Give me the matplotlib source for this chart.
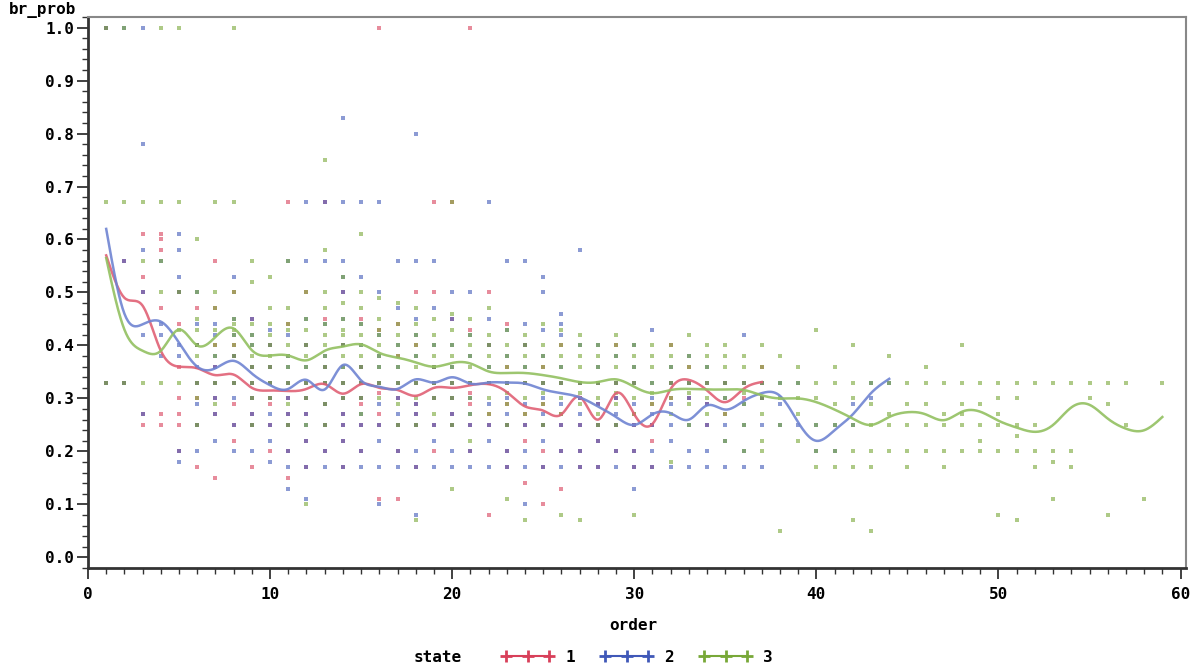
import numpy as np
import matplotlib
matplotlib.use("Agg")
import matplotlib.pyplot as plt
from matplotlib.lines import Line2D
from matplotlib.ticker import MultipleLocator

# ---- smoothed mean curves (at each order) ----
red_order = list(range(1, 38))
red_mean = [0.57, 0.49, 0.475, 0.39, 0.36, 0.357, 0.344, 0.345, 0.32, 0.315,
            0.314, 0.318, 0.327, 0.309, 0.327, 0.32, 0.316, 0.305, 0.32, 0.32,
            0.325, 0.327, 0.312, 0.285, 0.277, 0.27, 0.303, 0.26, 0.31, 0.27,
            0.252, 0.318, 0.335, 0.315, 0.293, 0.318, 0.331]

blue_order = list(range(1, 45))
blue_mean = [0.62, 0.46, 0.44, 0.445, 0.405, 0.36, 0.357, 0.371, 0.347, 0.325,
             0.318, 0.335, 0.317, 0.363, 0.334, 0.322, 0.318, 0.336, 0.33, 0.34,
             0.328, 0.33, 0.33, 0.328, 0.317, 0.31, 0.302, 0.285, 0.265, 0.25,
             0.27, 0.272, 0.26, 0.287, 0.279, 0.295, 0.31, 0.305, 0.255, 0.22,
             0.24, 0.27, 0.31, 0.337]

green_order = list(range(1, 60))
green_mean = [0.565, 0.43, 0.39, 0.39, 0.43, 0.40, 0.416, 0.432, 0.391, 0.381,
              0.381, 0.372, 0.39, 0.398, 0.402, 0.386, 0.377, 0.368, 0.36, 0.367,
              0.366, 0.351, 0.348, 0.348, 0.344, 0.338, 0.331, 0.331, 0.336, 0.322,
              0.31, 0.316, 0.318, 0.317, 0.317, 0.316, 0.306, 0.30, 0.30, 0.293,
              0.279, 0.262, 0.25, 0.265, 0.274, 0.27, 0.259, 0.275, 0.275, 0.258,
              0.245, 0.237, 0.25, 0.283, 0.288, 0.262, 0.243, 0.24, 0.265]

# ---- individual observations, order -> br_prob values ----
red_pts = {
    1: [1.0, 0.33], 2: [0.56, 0.33], 3: [0.61, 0.53, 0.5, 0.27, 0.25],
    4: [0.61, 0.6, 0.58, 0.47, 0.27, 0.25], 5: [0.5, 0.44, 0.36, 0.3, 0.27, 0.25, 0.2],
    6: [0.47, 0.4, 0.33, 0.3, 0.25, 0.17], 7: [0.56, 0.47, 0.4, 0.36, 0.33, 0.3, 0.27, 0.15],
    8: [0.5, 0.4, 0.38, 0.33, 0.29, 0.25, 0.22], 9: [0.45, 0.36, 0.33, 0.3, 0.27, 0.25, 0.17],
    10: [0.4, 0.36, 0.33, 0.3, 0.29, 0.25, 0.2], 11: [0.67, 0.44, 0.33, 0.3, 0.27, 0.25, 0.2, 0.15],
    12: [0.5, 0.4, 0.33, 0.3, 0.27, 0.22, 0.17], 13: [0.67, 0.45, 0.36, 0.33, 0.29, 0.25, 0.2],
    14: [0.5, 0.4, 0.33, 0.3, 0.27, 0.25, 0.22, 0.17], 15: [0.45, 0.36, 0.33, 0.3, 0.29, 0.25, 0.2],
    16: [1.0, 0.43, 0.33, 0.31, 0.27, 0.25, 0.11], 17: [0.44, 0.38, 0.33, 0.3, 0.25, 0.2, 0.11],
    18: [0.5, 0.4, 0.33, 0.29, 0.27, 0.25, 0.17], 19: [0.67, 0.5, 0.36, 0.33, 0.3, 0.25, 0.2],
    20: [0.67, 0.45, 0.33, 0.3, 0.27, 0.25], 21: [1.0, 0.43, 0.33, 0.31, 0.29, 0.25, 0.2],
    22: [0.5, 0.4, 0.33, 0.27, 0.25, 0.08], 23: [0.44, 0.36, 0.33, 0.29, 0.25, 0.2, 0.17],
    24: [0.4, 0.33, 0.27, 0.25, 0.22, 0.14], 25: [0.36, 0.33, 0.29, 0.25, 0.2, 0.17, 0.1],
    26: [0.4, 0.33, 0.27, 0.25, 0.2, 0.13], 27: [0.33, 0.3, 0.25, 0.2, 0.17],
    28: [0.33, 0.29, 0.25, 0.22, 0.17], 29: [0.4, 0.33, 0.3, 0.25, 0.2],
    30: [0.33, 0.27, 0.25, 0.2, 0.17], 31: [0.29, 0.25, 0.22, 0.17], 32: [0.4, 0.33, 0.3],
    33: [0.36, 0.33, 0.3], 34: [0.33, 0.29, 0.25], 35: [0.33, 0.27], 36: [0.33, 0.3],
    37: [0.36, 0.33, 0.3],
}

blue_pts = {
    1: [1.0, 0.33], 2: [1.0, 0.56, 0.33], 3: [1.0, 0.78, 0.58, 0.5, 0.42, 0.27],
    4: [0.56, 0.44, 0.42, 0.38], 5: [0.61, 0.58, 0.53, 0.5, 0.4, 0.38, 0.2, 0.18],
    6: [0.5, 0.44, 0.4, 0.36, 0.33, 0.29, 0.25, 0.2],
    7: [0.44, 0.42, 0.38, 0.36, 0.33, 0.3, 0.27, 0.22],
    8: [0.53, 0.45, 0.42, 0.38, 0.33, 0.3, 0.25, 0.2],
    9: [0.45, 0.42, 0.4, 0.36, 0.33, 0.3, 0.27, 0.25, 0.2],
    10: [0.43, 0.4, 0.36, 0.33, 0.3, 0.27, 0.25, 0.22, 0.18],
    11: [0.56, 0.42, 0.38, 0.36, 0.33, 0.3, 0.27, 0.25, 0.2, 0.17, 0.13],
    12: [0.67, 0.56, 0.45, 0.4, 0.36, 0.33, 0.3, 0.27, 0.25, 0.22, 0.17, 0.11],
    13: [0.67, 0.56, 0.44, 0.38, 0.36, 0.33, 0.29, 0.25, 0.2, 0.17],
    14: [0.83, 0.67, 0.56, 0.53, 0.5, 0.45, 0.4, 0.36, 0.33, 0.3, 0.27, 0.25, 0.22, 0.17],
    15: [0.67, 0.53, 0.44, 0.4, 0.36, 0.33, 0.3, 0.27, 0.25, 0.2, 0.17],
    16: [0.67, 0.5, 0.42, 0.38, 0.36, 0.33, 0.29, 0.25, 0.22, 0.17, 0.1],
    17: [0.56, 0.47, 0.4, 0.36, 0.33, 0.3, 0.27, 0.25, 0.2, 0.17],
    18: [0.8, 0.56, 0.45, 0.42, 0.38, 0.33, 0.29, 0.27, 0.25, 0.2, 0.17, 0.08],
    19: [0.56, 0.47, 0.4, 0.36, 0.33, 0.3, 0.25, 0.22, 0.17],
    20: [0.5, 0.45, 0.4, 0.36, 0.33, 0.3, 0.27, 0.25, 0.2, 0.17],
    21: [0.5, 0.42, 0.38, 0.33, 0.3, 0.27, 0.25, 0.2, 0.17],
    22: [0.67, 0.45, 0.4, 0.36, 0.33, 0.29, 0.25, 0.22, 0.17],
    23: [0.56, 0.43, 0.38, 0.33, 0.3, 0.27, 0.25, 0.2, 0.17],
    24: [0.56, 0.44, 0.4, 0.36, 0.33, 0.29, 0.25, 0.2, 0.17, 0.1],
    25: [0.53, 0.5, 0.43, 0.38, 0.33, 0.3, 0.27, 0.25, 0.22, 0.17],
    26: [0.46, 0.44, 0.42, 0.36, 0.33, 0.29, 0.25, 0.2, 0.17],
    27: [0.58, 0.4, 0.33, 0.3, 0.27, 0.25, 0.2, 0.17],
    28: [0.4, 0.36, 0.33, 0.29, 0.25, 0.22, 0.17],
    29: [0.38, 0.33, 0.3, 0.27, 0.25, 0.2, 0.17],
    30: [0.4, 0.36, 0.33, 0.29, 0.25, 0.2, 0.17, 0.13],
    31: [0.43, 0.33, 0.3, 0.27, 0.25, 0.2, 0.17],
    32: [0.36, 0.33, 0.29, 0.25, 0.22, 0.17], 33: [0.38, 0.33, 0.3, 0.25, 0.2, 0.17],
    34: [0.36, 0.33, 0.29, 0.25, 0.2, 0.17], 35: [0.33, 0.3, 0.25, 0.22, 0.17],
    36: [0.42, 0.33, 0.29, 0.25, 0.2, 0.17], 37: [0.33, 0.3, 0.25, 0.17],
    38: [0.33, 0.29, 0.25], 39: [0.33, 0.25], 40: [0.25, 0.2], 41: [0.25, 0.2],
    42: [0.29, 0.25], 43: [0.33, 0.3], 44: [0.33],
}

green_pts = {
    1: [1.0, 0.67, 0.33], 2: [1.0, 0.67, 0.33], 3: [0.67, 0.56, 0.33],
    4: [1.0, 0.67, 0.56, 0.5, 0.33], 5: [1.0, 0.67, 0.5, 0.43, 0.33],
    6: [0.6, 0.5, 0.45, 0.43, 0.4, 0.38, 0.33, 0.3, 0.25],
    7: [0.67, 0.5, 0.47, 0.43, 0.4, 0.38, 0.33, 0.29],
    8: [1.0, 0.67, 0.5, 0.45, 0.44, 0.43, 0.42, 0.4, 0.38, 0.33],
    9: [0.56, 0.52, 0.44, 0.42, 0.4, 0.38, 0.36, 0.33, 0.3, 0.25],
    10: [0.53, 0.47, 0.44, 0.42, 0.4, 0.38, 0.36, 0.33, 0.3],
    11: [0.56, 0.47, 0.44, 0.43, 0.4, 0.38, 0.36, 0.33, 0.29, 0.25],
    12: [0.5, 0.45, 0.43, 0.4, 0.38, 0.36, 0.33, 0.3, 0.25, 0.1],
    13: [0.75, 0.58, 0.5, 0.47, 0.44, 0.42, 0.4, 0.38, 0.36, 0.33, 0.29, 0.25],
    14: [0.53, 0.48, 0.45, 0.43, 0.42, 0.4, 0.38, 0.36, 0.33, 0.3],
    15: [0.61, 0.5, 0.47, 0.44, 0.42, 0.4, 0.38, 0.36, 0.33, 0.3, 0.27],
    16: [0.49, 0.45, 0.43, 0.42, 0.4, 0.38, 0.36, 0.33, 0.3],
    17: [0.48, 0.44, 0.42, 0.4, 0.38, 0.36, 0.33, 0.29, 0.25],
    18: [0.47, 0.44, 0.42, 0.4, 0.38, 0.36, 0.33, 0.3, 0.25, 0.07],
    19: [0.45, 0.42, 0.4, 0.38, 0.36, 0.33, 0.3, 0.27],
    20: [0.67, 0.46, 0.43, 0.4, 0.38, 0.36, 0.33, 0.3, 0.25, 0.13],
    21: [0.45, 0.42, 0.4, 0.38, 0.36, 0.33, 0.3, 0.27, 0.22],
    22: [0.47, 0.42, 0.4, 0.38, 0.36, 0.33, 0.3, 0.27],
    23: [0.43, 0.4, 0.38, 0.36, 0.33, 0.31, 0.29, 0.25, 0.11],
    24: [0.42, 0.4, 0.38, 0.36, 0.33, 0.3, 0.27, 0.07],
    25: [0.44, 0.4, 0.38, 0.36, 0.33, 0.31, 0.29, 0.25],
    26: [0.43, 0.4, 0.38, 0.36, 0.33, 0.3, 0.27, 0.08],
    27: [0.42, 0.4, 0.38, 0.36, 0.33, 0.31, 0.29, 0.07],
    28: [0.4, 0.38, 0.36, 0.33, 0.3, 0.27, 0.25],
    29: [0.42, 0.4, 0.38, 0.36, 0.33, 0.31, 0.29, 0.25],
    30: [0.4, 0.38, 0.36, 0.33, 0.3, 0.27, 0.08],
    31: [0.4, 0.38, 0.36, 0.33, 0.31, 0.29],
    32: [0.4, 0.38, 0.36, 0.33, 0.3, 0.27, 0.18],
    33: [0.42, 0.38, 0.36, 0.33, 0.31, 0.29, 0.25],
    34: [0.4, 0.38, 0.36, 0.33, 0.3, 0.27],
    35: [0.4, 0.38, 0.36, 0.33, 0.3, 0.27, 0.22],
    36: [0.38, 0.36, 0.33, 0.31, 0.29, 0.25, 0.2],
    37: [0.4, 0.36, 0.33, 0.3, 0.27, 0.22, 0.2],
    38: [0.38, 0.33, 0.3, 0.25, 0.05], 39: [0.36, 0.33, 0.3, 0.27, 0.22],
    40: [0.43, 0.33, 0.3, 0.25, 0.2, 0.17], 41: [0.36, 0.33, 0.29, 0.25, 0.2, 0.17],
    42: [0.4, 0.33, 0.3, 0.25, 0.2, 0.17, 0.07], 43: [0.33, 0.29, 0.25, 0.2, 0.17, 0.05],
    44: [0.38, 0.33, 0.27, 0.25, 0.2], 45: [0.33, 0.29, 0.25, 0.2, 0.17],
    46: [0.36, 0.33, 0.29, 0.25, 0.2], 47: [0.33, 0.27, 0.25, 0.2, 0.17],
    48: [0.4, 0.33, 0.29, 0.27, 0.25, 0.2], 49: [0.33, 0.29, 0.25, 0.22, 0.2],
    50: [0.33, 0.3, 0.27, 0.25, 0.2, 0.08], 51: [0.33, 0.3, 0.25, 0.23, 0.2, 0.07],
    52: [0.33, 0.25, 0.2, 0.17], 53: [0.33, 0.2, 0.18, 0.11], 54: [0.33, 0.2, 0.17],
    55: [0.33, 0.3], 56: [0.33, 0.29, 0.08], 57: [0.33, 0.25], 58: [0.11], 59: [0.33],
}

state_labels = ['1', '2', '3']


def spline(x, y, n=20):
    # natural cubic spline through the read means (like SAS i=spline)
    x = np.asarray(x, float)
    y = np.asarray(y, float)
    k = len(x)
    h = np.diff(x)
    A = np.zeros((k, k))
    r = np.zeros(k)
    A[0, 0] = A[-1, -1] = 1
    for i in range(1, k - 1):
        A[i, i - 1] = h[i - 1]
        A[i, i] = 2 * (h[i - 1] + h[i])
        A[i, i + 1] = h[i]
        r[i] = 6 * ((y[i + 1] - y[i]) / h[i] - (y[i] - y[i - 1]) / h[i - 1])
    M = np.linalg.solve(A, r)
    xs, ys = [], []
    for i in range(k - 1):
        t = np.linspace(x[i], x[i + 1], n, endpoint=False)
        a = (x[i + 1] - t) / h[i]
        b = (t - x[i]) / h[i]
        v = a * y[i] + b * y[i + 1] + ((a ** 3 - a) * M[i] + (b ** 3 - b) * M[i + 1]) * h[i] ** 2 / 6
        xs.extend(t)
        ys.extend(v)
    xs.append(x[-1])
    ys.append(y[-1])
    return np.array(xs), np.array(ys)


dot_cols = ['#d8405a', '#4058b8', '#78a838']
line_cols = ['#e06075', '#6f84d2', '#92c060']

fig = plt.figure(figsize=(12.02, 6.68), dpi=100)
ax = fig.add_axes([0.0732, 0.1497, 0.9135, 0.8249])

for pts, c in zip([red_pts, blue_pts, green_pts], dot_cols):
    xs = [o for o, vals in pts.items() for v in vals]
    ys = [v for o, vals in pts.items() for v in vals]
    ax.scatter(xs, ys, s=6, marker='s', color=c, alpha=0.6, linewidths=0, zorder=2)

for o, m, c in zip([red_order, blue_order, green_order],
                   [red_mean, blue_mean, green_mean], line_cols):
    sx, sy = spline(o, m)
    ax.plot(sx, sy, color=c, lw=1.8, alpha=0.9, zorder=3)

ax.set_xlim(0, 60.3)
ax.set_ylim(-0.02, 1.02)
ax.xaxis.set_major_locator(MultipleLocator(10))
ax.xaxis.set_minor_locator(MultipleLocator(1))
ax.yaxis.set_major_locator(MultipleLocator(0.1))
ax.yaxis.set_minor_locator(MultipleLocator(0.02))
ax.yaxis.set_major_formatter(matplotlib.ticker.FormatStrFormatter('%.1f'))

tick_font = dict(family='DejaVu Sans Mono', weight='bold', size=11.5)
for lab in ax.get_xticklabels() + ax.get_yticklabels():
    lab.set_fontfamily('DejaVu Sans Mono')
    lab.set_fontweight('bold')
    lab.set_fontsize(11.5)
ax.tick_params(which='major', length=8, width=1.3, color='#333333')
ax.tick_params(which='minor', length=4, width=1.0, color='#333333')
ax.tick_params(axis='y', which='major', pad=2)
ax.tick_params(axis='x', which='major', pad=6)

for side in ['left', 'bottom']:
    ax.spines[side].set_linewidth(2)
    ax.spines[side].set_color('#333333')
for side in ['top', 'right']:
    ax.spines[side].set_linewidth(1.5)
    ax.spines[side].set_color('#888888')

fig.text(0.007, 0.979, 'br_prob', **tick_font)
fig.text(0.527, 0.064, 'order', ha='center', va='center', **tick_font)

fig.text(0.364, 0.016, 'state', ha='center', va='center', **tick_font)
handles = [Line2D([0], [0], color=c, lw=1.5, marker='+', markersize=9, mew=2)
           for c in dot_cols]
fig.legend(handles, state_labels, ncol=3, loc='center', bbox_to_anchor=(0.530, 0.016),
           frameon=False, numpoints=3, handlelength=3.3, columnspacing=1.6,
           handletextpad=0.7, prop=dict(family='DejaVu Sans Mono', weight='bold', size=11.5))

fig.savefig('out.png', dpi=100)
